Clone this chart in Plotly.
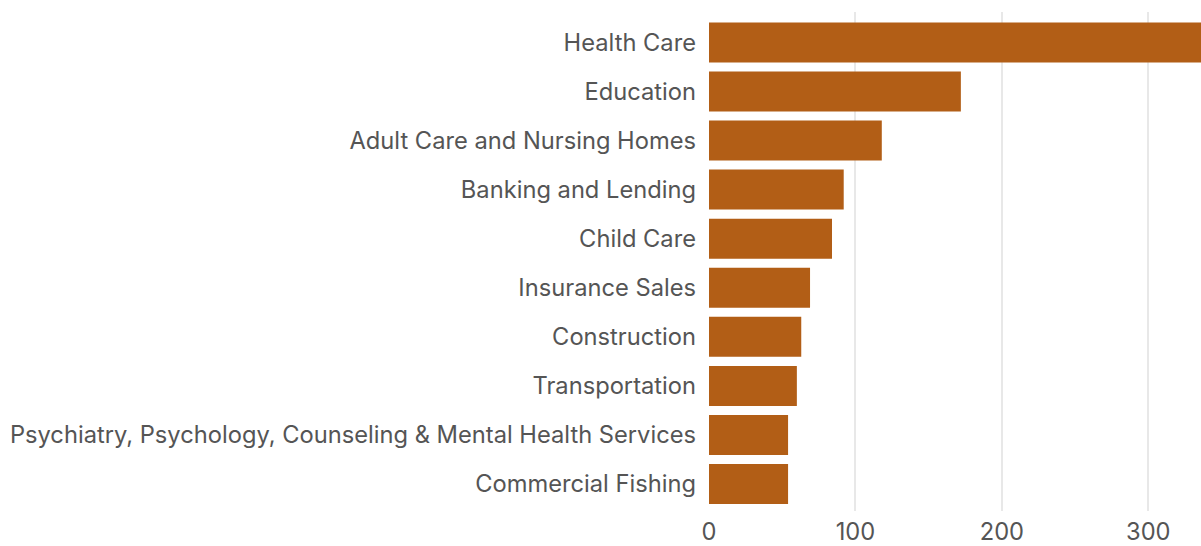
import plotly.graph_objects as go

categories = [
    "Health Care",
    "Education",
    "Adult Care and Nursing Homes",
    "Banking and Lending",
    "Child Care",
    "Insurance Sales",
    "Construction",
    "Transportation",
    "Psychiatry, Psychology, Counseling & Mental Health Services",
    "Commercial Fishing",
]
values = [345, 172, 118, 92, 84, 69, 63, 60, 54, 54]
x_ticks = [0, 100, 200, 300]

fig = go.Figure(
    go.Bar(
        y=categories,
        x=values,
        orientation="h",
        marker=dict(color="#b25e16", line=dict(width=0)),
        width=0.815,
    )
)

fig.update_layout(
    width=1201,
    height=546,
    margin=dict(l=709, r=0, t=12, b=33),
    paper_bgcolor="white",
    plot_bgcolor="white",
    font=dict(family="Inter", size=23.7, color="#555555"),
    showlegend=False,
)
fig.update_xaxes(
    range=[0, 336],
    tickvals=x_ticks,
    showgrid=True,
    gridcolor="#e8e8e8",
    gridwidth=2,
    zeroline=False,
    showline=False,
    ticks="",
    ticklabelstandoff=4,
)
fig.update_yaxes(
    categoryorder="array",
    categoryarray=categories,
    range=[9.55, -0.62],
    showgrid=False,
    zeroline=False,
    showline=False,
    ticks="",
    ticklabelstandoff=12,
)

fig.write_html(
    "out.html",
    config={"displayModeBar": False},
    post_script="document.body.style.margin='0';document.body.style.overflow='hidden';",
)
